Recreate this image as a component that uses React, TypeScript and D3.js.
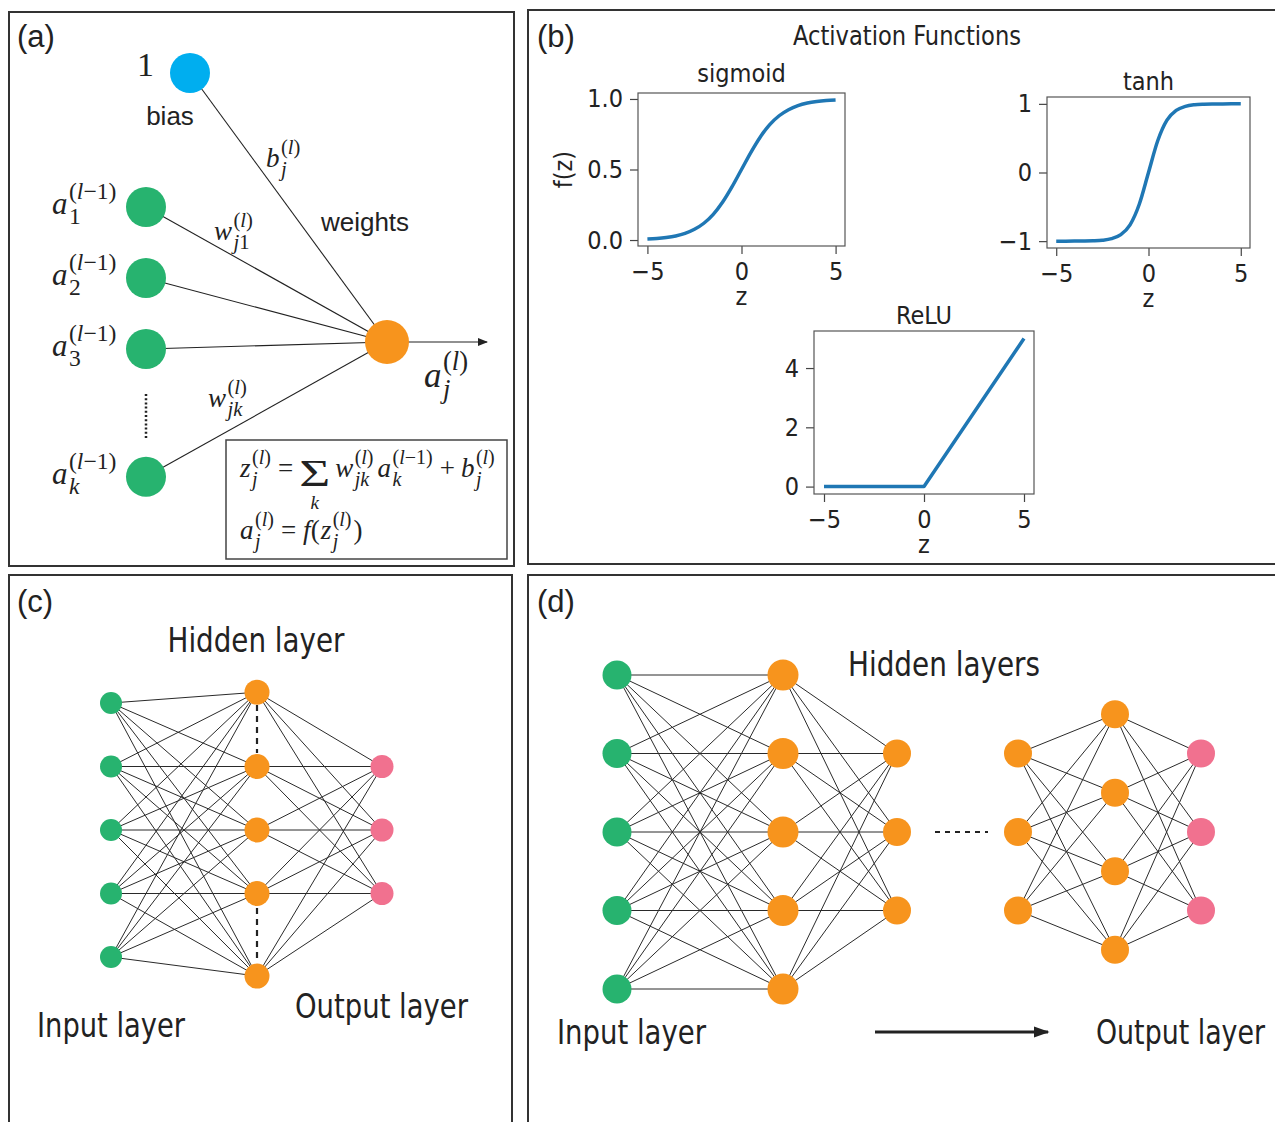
import React, { useEffect, useRef } from 'react';
import * as d3 from 'd3';

// ---- activation function samples ----
const zValues = [-5, -4.5, -4, -3.5, -3, -2.5, -2, -1.5, -1, -0.5, 0, 0.5, 1, 1.5, 2, 2.5, 3, 3.5, 4, 4.5, 5];
const sigmoidValues = [0.007, 0.011, 0.018, 0.029, 0.047, 0.076, 0.119, 0.182, 0.269, 0.378, 0.5, 0.622, 0.731, 0.818, 0.881, 0.924, 0.953, 0.971, 0.982, 0.989, 0.993];
const tanhValues = [-1.0, -1.0, -0.999, -0.998, -0.995, -0.987, -0.964, -0.905, -0.762, -0.462, 0, 0.462, 0.762, 0.905, 0.964, 0.987, 0.995, 0.998, 0.999, 1.0, 1.0];
const reluZ = [-5, 0, 5];
const reluValues = [0, 0, 5];

const zTicks = [-5, 0, 5];
const sigmoidTicks = [0, 0.5, 1];
const tanhTicks = [-1, 0, 1];
const reluTicks = [0, 2, 4];

// ---- panel a: single neuron ----
const neuronInputs = ['1', '2', '3', 'k'];
const neuronSlots = [0, 1, 2, 3.8];

// ---- panel c / d: network layers ----
const netC = [
  { role: 'input', slots: [0, 1, 2, 3, 4] },
  { role: 'hidden', slots: [-0.17, 1, 2, 3, 4.3] },
  { role: 'output', slots: [1, 2, 3] },
];
const netCLinks = [[0, 1], [1, 2]];

const netD = [
  { role: 'input', slots: [0, 1, 2, 3, 4] },
  { role: 'hidden', slots: [0, 1, 2, 3, 4] },
  { role: 'hidden', slots: [1, 2, 3] },
  { role: 'hidden', slots: [1, 2, 3] },
  { role: 'hidden', slots: [0.5, 1.5, 2.5, 3.5] },
  { role: 'output', slots: [1, 2, 3] },
];
const netDLinks = [[0, 1], [1, 2], [3, 4], [4, 5]];

const colors: Record<string, string> = {
  input: '#27b36f',
  hidden: '#f7941d',
  output: '#f1718f',
  bias: '#00aeef',
};

const SERIF = "'Liberation Serif', 'DejaVu Serif', serif";
const SANS = "'Liberation Sans', Arial, sans-serif";
const NARROW = "'Liberation Sans Narrow', 'DejaVu Sans Condensed', 'Roboto', sans-serif";
const MPL = "'DejaVu Sans Condensed', 'DejaVu Sans', sans-serif";
const INK = '#222';

// split math text into italic letters / upright rest
function runs(s: string) {
  const out: { text: string; italic: boolean }[] = [];
  for (const ch of s) {
    const it = /[a-z]/.test(ch);
    const last = out[out.length - 1];
    if (last && last.italic === it) last.text += ch;
    else out.push({ text: ch, italic: it });
  }
  return out;
}

function mtext(g: any, x: number, y: number, s: string, size: number, anchor = 'start') {
  const t = g.append('text')
    .attr('x', x).attr('y', y)
    .attr('font-family', SERIF)
    .attr('font-size', size)
    .attr('text-anchor', anchor)
    .attr('fill', INK);
  runs(s).forEach(r => t.append('tspan').attr('font-style', r.italic ? 'italic' : 'normal').text(r.text));
  return (t.node() as SVGTextElement).getComputedTextLength();
}

// base with stacked sub/superscript, returns advance width
function term(g: any, x: number, y: number, base: string, sub: string, sup: string, size: number, ratio = 0.76) {
  const w = mtext(g, x, y, base, size);
  const s = size * ratio;
  let w2 = 0;
  if (sup) w2 = Math.max(w2, mtext(g, x + w + 1.5, y - size * 0.48, sup, s));
  if (sub) w2 = Math.max(w2, mtext(g, x + w + 1.5, y + size * 0.32, sub, s));
  return w + 1.5 + w2;
}

function label(g: any, x: number, y: number, s: string, size: number, family: string, width?: number, anchor = 'start') {
  const t = g.append('text')
    .attr('x', x).attr('y', y)
    .attr('font-family', family)
    .attr('font-size', size)
    .attr('text-anchor', anchor)
    .attr('fill', INK)
    .text(s);
  if (width) t.attr('textLength', width).attr('lengthAdjust', 'spacingAndGlyphs');
  return t;
}

function frame(g: any, x: number, y: number, w: number, h: number) {
  g.append('rect').attr('x', x).attr('y', y).attr('width', w).attr('height', h)
    .attr('fill', 'none').attr('stroke', '#333').attr('stroke-width', 2);
}

const minus = (d: number) => (d < 0 ? '\u2212' + Math.abs(d) : String(d));

function plot(g: any, box: any, z: number[], f: number[], yTicks: number[], yFmt: any,
  title: string, titleY: number, ylab: boolean, curve: any) {
  const pad = (e: any) => { const r = e[1] - e[0]; return [e[0] - 0.05 * r, e[1] + 0.05 * r]; };
  const x = d3.scaleLinear().domain(pad(d3.extent(z))).range([box.l, box.r]);
  const y = d3.scaleLinear().domain(pad(d3.extent(f))).range([box.b, box.t]);

  const xa = g.append('g').attr('transform', `translate(0,${box.b})`)
    .call(d3.axisBottom(x).tickValues(zTicks).tickSize(8).tickPadding(8).tickFormat(minus as any));
  const ya = g.append('g').attr('transform', `translate(${box.l},0)`)
    .call(d3.axisLeft(y).tickValues(yTicks).tickSize(8).tickPadding(7).tickFormat(yFmt));
  [xa, ya].forEach(a => {
    a.select('.domain').remove();
    a.selectAll('line').attr('stroke', '#444').attr('stroke-width', 1.2);
    a.selectAll('text').attr('font-family', MPL).attr('font-size', 25).attr('fill', INK);
  });

  g.append('rect').attr('x', box.l).attr('y', box.t).attr('width', box.r - box.l).attr('height', box.b - box.t)
    .attr('fill', 'none').attr('stroke', '#555').attr('stroke-width', 1.2);

  const line = d3.line<number>().x((_, i) => x(z[i])).y(d => y(d)).curve(curve);
  g.append('path').datum(f).attr('d', line).attr('fill', 'none')
    .attr('stroke', '#1f77b4').attr('stroke-width', 3.5).attr('stroke-linejoin', 'round');

  label(g, x(0), titleY, title, 25, MPL, undefined, 'middle');
  label(g, x(0), box.b + 59, 'z', 25, MPL, undefined, 'middle');
  if (ylab) {
    g.append('text').attr('transform', `translate(${box.l - 66},${(box.t + box.b) / 2}) rotate(-90)`)
      .attr('text-anchor', 'middle').attr('font-family', MPL).attr('font-size', 25).attr('fill', INK).text('f(z)');
  }
}

function network(g: any, layers: any[], links: number[][], cols: number[], y: any, radii: number[]) {
  const pos = layers.map((L, li) => L.slots.map((s: number) => [cols[li], y(s)]));
  const edges: number[][][] = [];
  links.forEach(([a, b]) => pos[a].forEach((p: number[]) => pos[b].forEach((q: number[]) => edges.push([p, q]))));
  g.append('g').selectAll('line').data(edges).join('line')
    .attr('x1', (d: any) => d[0][0]).attr('y1', (d: any) => d[0][1])
    .attr('x2', (d: any) => d[1][0]).attr('y2', (d: any) => d[1][1])
    .attr('stroke', '#2a2a2a').attr('stroke-width', 1);
  layers.forEach((L, li) => {
    g.append('g').selectAll('circle').data(pos[li]).join('circle')
      .attr('cx', (d: any) => d[0]).attr('cy', (d: any) => d[1])
      .attr('r', radii[li]).attr('fill', colors[L.role]);
  });
}

export default function App() {
  const ref = useRef<SVGSVGElement>(null);

  useEffect(() => {
    document.body.style.margin = '0';
    const svg = d3.select(ref.current);
    svg.selectAll('*').remove();
    svg.append('rect').attr('width', 1275).attr('height', 1122).attr('fill', '#fff');

    const defs = svg.append('defs');
    defs.append('marker').attr('id', 'arr').attr('viewBox', '0 0 10 10')
      .attr('refX', 9).attr('refY', 5).attr('markerWidth', 10).attr('markerHeight', 10)
      .attr('markerUnits', 'userSpaceOnUse').attr('orient', 'auto')
      .append('path').attr('d', 'M0,1L10,5L0,9Z').attr('fill', INK);
    defs.append('marker').attr('id', 'arr2').attr('viewBox', '0 0 10 10')
      .attr('refX', 9).attr('refY', 5).attr('markerWidth', 16).attr('markerHeight', 16)
      .attr('markerUnits', 'userSpaceOnUse').attr('orient', 'auto')
      .append('path').attr('d', 'M0,1.5L10,5L0,8.5Z').attr('fill', INK);

    // ================= panel (a) =================
    const a = svg.append('g');
    frame(a, 9, 12, 505, 554);
    label(a, 17, 47, '(a)', 31, SANS);

    const neuron = [387, 342];
    const bias = [190, 73];
    const ny = d3.scaleLinear().domain([0, 2]).range([207, 349]);
    const inPts = neuronSlots.map(s => [146, ny(s)]);

    a.append('line').attr('x1', bias[0]).attr('y1', bias[1]).attr('x2', neuron[0]).attr('y2', neuron[1])
      .attr('stroke', INK).attr('stroke-width', 1.1);
    a.selectAll('.wl').data(inPts).join('line')
      .attr('x1', d => d[0]).attr('y1', d => d[1]).attr('x2', neuron[0]).attr('y2', neuron[1])
      .attr('stroke', INK).attr('stroke-width', 1.1);
    a.append('line').attr('x1', neuron[0] + 20).attr('y1', neuron[1]).attr('x2', 487).attr('y2', neuron[1])
      .attr('stroke', INK).attr('stroke-width', 1.1).attr('marker-end', 'url(#arr)');
    a.append('line').attr('x1', 146).attr('y1', 394).attr('x2', 146).attr('y2', 440)
      .attr('stroke', INK).attr('stroke-width', 2.5).attr('stroke-dasharray', '2,2.2');

    a.append('ellipse').attr('cx', bias[0]).attr('cy', bias[1]).attr('rx', 20).attr('ry', 20).attr('fill', colors.bias);
    a.selectAll('.gn').data(inPts).join('circle')
      .attr('cx', d => d[0]).attr('cy', d => d[1]).attr('r', 20).attr('fill', colors.input);
    a.append('circle').attr('cx', neuron[0]).attr('cy', neuron[1]).attr('r', 22).attr('fill', colors.hidden);

    mtext(a, 137, 76, '1', 34);
    label(a, 170, 125, 'bias', 26, SANS, undefined, 'middle');
    label(a, 365, 231, 'weights', 26, SANS, undefined, 'middle');

    neuronInputs.forEach((k, i) => term(a, 52, inPts[i][1] + 7, 'a', k, '(l\u22121)', 31));
    term(a, 266, 167, 'b', 'j', '(l)', 27);
    term(a, 214, 240, 'w', 'j1', '(l)', 27);
    term(a, 208, 407, 'w', 'jk', '(l)', 27);
    term(a, 424, 387, 'a', 'j', '(l)', 35);

    // formula box
    a.append('rect').attr('x', 226).attr('y', 440).attr('width', 281).attr('height', 119)
      .attr('fill', 'none').attr('stroke', '#444').attr('stroke-width', 1.5);
    {
      const fs = 27;
      const r = 0.74;
      const y1 = 477;
      let cx = 240;
      cx += term(a, cx, y1, 'z', 'j', '(l)', fs, r) + 7;
      cx += mtext(a, cx, y1, '=', fs) + 6;
      a.append('text').attr('x', cx).attr('y', y1 + 9).attr('font-family', SERIF).attr('font-size', 37)
        .attr('fill', INK).attr('textLength', 31).attr('lengthAdjust', 'spacingAndGlyphs').text('\u03a3');
      mtext(a, cx + 15.5, y1 + 32, 'k', 19, 'middle');
      cx += 31 + 5;
      cx += term(a, cx, y1, 'w', 'jk', '(l)', fs, r) + 4;
      cx += term(a, cx, y1, 'a', 'k', '(l\u22121)', fs, r) + 7;
      cx += mtext(a, cx, y1, '+', fs) + 6;
      term(a, cx, y1, 'b', 'j', '(l)', fs, r);

      const y2 = 539;
      cx = 240;
      cx += term(a, cx, y2, 'a', 'j', '(l)', fs, r) + 7;
      cx += mtext(a, cx, y2, '=', fs) + 7;
      cx += mtext(a, cx, y2, 'f(', fs) + 1;
      cx += term(a, cx, y2, 'z', 'j', '(l)', fs, r) + 2;
      mtext(a, cx, y2, ')', fs);
    }

    // ================= panel (b) =================
    const b = svg.append('g');
    frame(b, 528, 10, 760, 554);
    label(b, 537, 47, '(b)', 31, SANS);
    label(b, 907, 45, 'Activation Functions', 26, MPL, 228, 'middle');

    plot(b, { l: 638, r: 845, t: 93, b: 246 }, zValues, sigmoidValues, sigmoidTicks, d3.format('.1f'), 'sigmoid', 82, true, d3.curveMonotoneX);
    plot(b, { l: 1047, r: 1250, t: 97, b: 248 }, zValues, tanhValues, tanhTicks, minus, 'tanh', 90, false, d3.curveMonotoneX);
    plot(b, { l: 814, r: 1034, t: 331, b: 494 }, reluZ, reluValues, reluTicks, minus, 'ReLU', 324, false, d3.curveLinear);

    // ================= panel (c) =================
    const c = svg.append('g');
    frame(c, 9, 575, 503, 560);
    label(c, 17, 612, '(c)', 31, SANS);
    const cy = d3.scaleLinear().domain([0, 4]).range([703, 957]);
    network(c, netC, netCLinks, [111, 257, 382], cy, [11, 12.5, 11.5]);
    [[692 + 13, 767 - 14], [894 + 14, 977 - 14]].forEach(([y0, y1]) =>
      c.append('line').attr('x1', 257).attr('x2', 257).attr('y1', y0).attr('y2', y1)
        .attr('stroke', INK).attr('stroke-width', 2.2).attr('stroke-dasharray', '6,5'));
    label(c, 256, 652, 'Hidden layer', 33, NARROW, 177, 'middle');
    label(c, 37, 1037, 'Input layer', 33, NARROW, 148);
    label(c, 295, 1018, 'Output layer', 33, NARROW, 173);

    // ================= panel (d) =================
    const d = svg.append('g');
    frame(d, 528, 575, 760, 560);
    label(d, 537, 612, '(d)', 31, SANS);
    const dy = d3.scaleLinear().domain([0, 4]).range([675, 989]);
    network(d, netD, netDLinks, [617, 783, 897, 1018, 1115, 1201], dy, [14.5, 15.5, 14, 14, 14, 14]);
    d.append('line').attr('x1', 935).attr('x2', 988).attr('y1', dy(2)).attr('y2', dy(2))
      .attr('stroke', INK).attr('stroke-width', 2).attr('stroke-dasharray', '5,5');
    label(d, 944, 676, 'Hidden layers', 34, NARROW, 192, 'middle');
    label(d, 557, 1044, 'Input layer', 34, NARROW, 149);
    label(d, 1096, 1044, 'Output layer', 34, NARROW, 169);
    d.append('line').attr('x1', 875).attr('x2', 1048).attr('y1', 1032).attr('y2', 1032)
      .attr('stroke', INK).attr('stroke-width', 3).attr('marker-end', 'url(#arr2)');
  }, []);

  return (
    <svg ref={ref} width={1275} height={1122} style={{ display: 'block' }} />
  );
}
